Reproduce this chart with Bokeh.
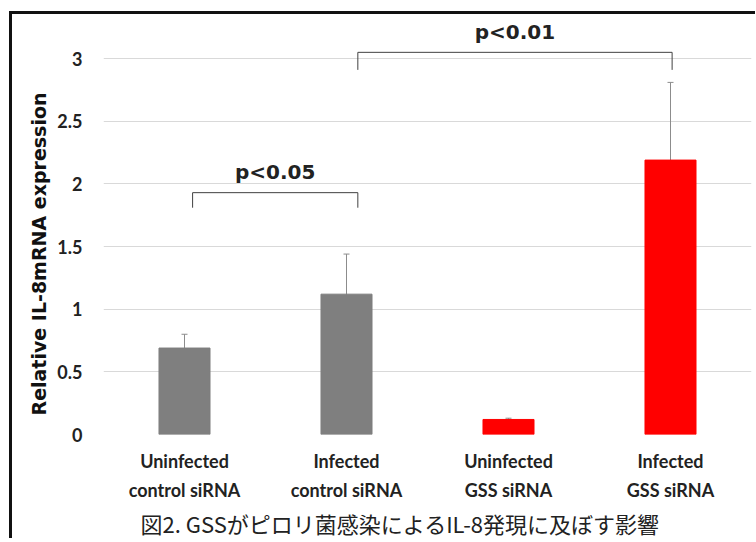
from bokeh.plotting import figure
from bokeh.models import Range1d, FixedTicker, Whisker, ColumnDataSource, Title, TeeHead
from bokeh.core.properties import value
from bokeh.embed import file_html
from bokeh.resources import INLINE

# ---- data ----
categories = ["Uninfected\ncontrol siRNA", "Infected\ncontrol siRNA",
              "Uninfected\nGSS siRNA", "Infected\nGSS siRNA"]
means = [0.69, 1.12, 0.12, 2.19]
errors = [0.11, 0.32, 0.01, 0.62]
bar_colors = ["#7f7f7f", "#7f7f7f", "#ff0000", "#ff0000"]
y_ticks = [0, 0.5, 1, 1.5, 2, 2.5, 3]
y_tick_labels = ["0", "0.5", "1", "1.5", "2", "2.5", "3"]

bracket_left = [0.55, 1.57]
bracket_right = [1.57, 3.51]
bracket_top = [1.93, 3.05]
bracket_leg_bottom = [1.81, 2.91]
bracket_labels = ["p<0.05", "p<0.01"]

caption = "図2.  GSSがピロリ菌感染によるIL-8発現に及ぼす影響"
y_label = "Relative IL-8mRNA expression"

# ---- figure ----
xs = [i + 0.5 for i in range(len(categories))]
p = figure(frame_width=648, frame_height=416,
           x_range=Range1d(0, len(categories)), y_range=Range1d(0, 3.32),
           output_backend="svg", toolbar_location=None,
           min_border_left=91, min_border_right=4, min_border_top=4,
           min_border_bottom=96)
p.styles = {"border-left": "3px solid #111111", "border-top": "3px solid #111111",
            "margin-left": "9px", "margin-top": "11px"}
p.outline_line_color = None
p.background_fill_color = "white"

src = ColumnDataSource(dict(x=xs, top=means, color=bar_colors,
                            upper=[m + e for m, e in zip(means, errors)],
                            lower=[m - e for m, e in zip(means, errors)]))
p.vbar(x="x", top="top", width=0.315, bottom=0, color="color", source=src)

wh = Whisker(base="x", upper="upper", lower="lower", source=src,
             line_color="#8c8c8c", line_width=1,
             upper_head=TeeHead(size=6, line_color="#8c8c8c", line_width=1),
             lower_head=TeeHead(size=6, line_color="#8c8c8c", line_width=1))
p.add_layout(wh)

# brackets
bx = [[l, l, r, r] for l, r in zip(bracket_left, bracket_right)]
by = [[b, t, t, b] for t, b in zip(bracket_top, bracket_leg_bottom)]
p.multi_line(xs=bx, ys=by, line_color="#404040", line_width=1)
p.text(x=[(l + r) / 2 for l, r in zip(bracket_left, bracket_right)],
       y=[t + 0.165 for t in bracket_top], text=bracket_labels,
       text_font=value("DejaVu Sans"), text_font_style="bold",
       text_font_size="20px", text_align="center", text_baseline="middle",
       text_color="#222222")

# axes
p.xgrid.grid_line_color = None
p.ygrid.grid_line_color = "#d9d9d9"
p.ygrid.ticker = FixedTicker(ticks=y_ticks)

p.yaxis.ticker = FixedTicker(ticks=y_ticks)
p.yaxis.major_label_overrides = {t: s for t, s in zip(y_ticks, y_tick_labels)}
p.yaxis.axis_line_color = None
p.yaxis.major_tick_line_color = None
p.yaxis.minor_tick_line_color = None
p.yaxis.major_label_standoff = 15
p.yaxis.major_label_text_font = "Lato"
p.yaxis.major_label_text_font_style = "bold"
p.yaxis.major_label_text_font_size = "18px"
p.yaxis.major_label_text_color = "#222222"

# y-axis title (placed slightly below the frame centre, as in the original)
p.add_layout(Title(text=y_label, align="left", offset=19, standoff=10,
                   text_font="DejaVu Sans", text_font_style="bold",
                   text_font_size="19px", text_color="#111111"), "left")

p.xaxis.ticker = FixedTicker(ticks=xs)
p.xaxis.major_label_overrides = {x: c for x, c in zip(xs, categories)}
p.xaxis.axis_line_color = None
p.xaxis.major_tick_line_color = None
p.xaxis.minor_tick_line_color = None
p.xaxis.major_label_standoff = 9
p.xaxis.major_label_text_font = "Lato"
p.xaxis.major_label_text_font_style = "bold"
p.xaxis.major_label_text_font_size = "18px"
p.xaxis.major_label_text_color = "#222222"
p.xaxis.major_label_text_line_height = 1.35

p.add_layout(Title(text=caption, align="left", offset=37, standoff=0,
                   text_font="Noto Sans CJK JP", text_font_style="normal",
                   text_font_size="22px", text_color="#222222"), "below")

open("out.html", "w").write(file_html(p, INLINE))
